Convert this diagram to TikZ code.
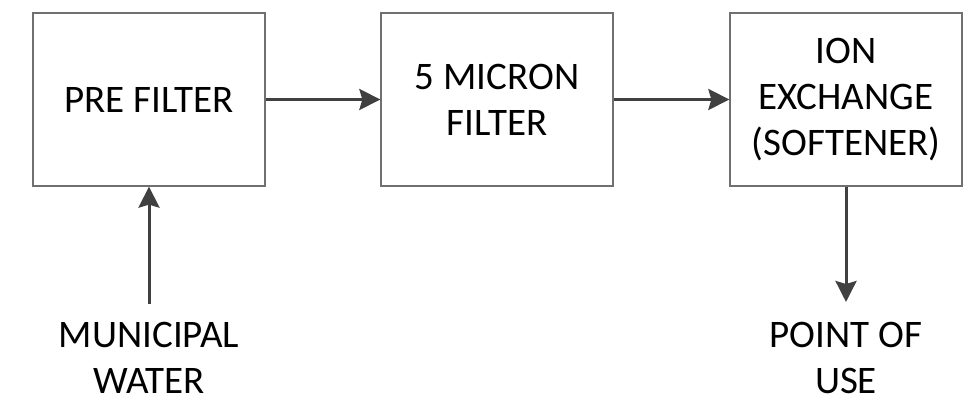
\documentclass[tikz,border=0pt]{standalone}
\usepackage{fontspec}
\setmainfont{Carlito}
\usetikzlibrary{arrows.meta}
\definecolor{boxline}{HTML}{707070}
\definecolor{arrowc}{HTML}{404040}
\tikzset{
  stagebox/.style={draw=boxline, line width=1.3pt, minimum width=232pt, minimum height=173pt, inner sep=0pt, align=center, font=\fontsize{39}{46}\selectfont},
  flowarrow/.style={draw=arrowc, line width=3pt, -{Stealth[length=21pt,width=21pt,inset=3pt]}},
  endlabel/.style={align=center, font=\fontsize{39}{46}\selectfont, inner sep=0pt}
}
\begin{document}
\begin{tikzpicture}[x=1pt,y=1pt]
\useasboundingbox (0,0) rectangle (964,398);
\node[stagebox] (pre) at (149,298.5) {PRE FILTER};
\node[stagebox] (micron) at (497,298.5) {5 MICRON\\FILTER};
\node[stagebox] (ion) at (846,298.5) {ION\\EXCHANGE\\(SOFTENER)};
\coordinate (src) at (149,94);
\coordinate (dst) at (846,96);
\node[endlabel] (muni) at (149,40) {MUNICIPAL\\WATER};
\node[endlabel] (pou) at (846,40) {POINT OF\\USE};
\draw[flowarrow] (pre.east) -- (micron.west);
\draw[flowarrow] (micron.east) -- (ion.west);
\draw[flowarrow] (src) -- (pre.south);
\draw[flowarrow] (ion.south) -- (dst);
\end{tikzpicture}
\end{document}
